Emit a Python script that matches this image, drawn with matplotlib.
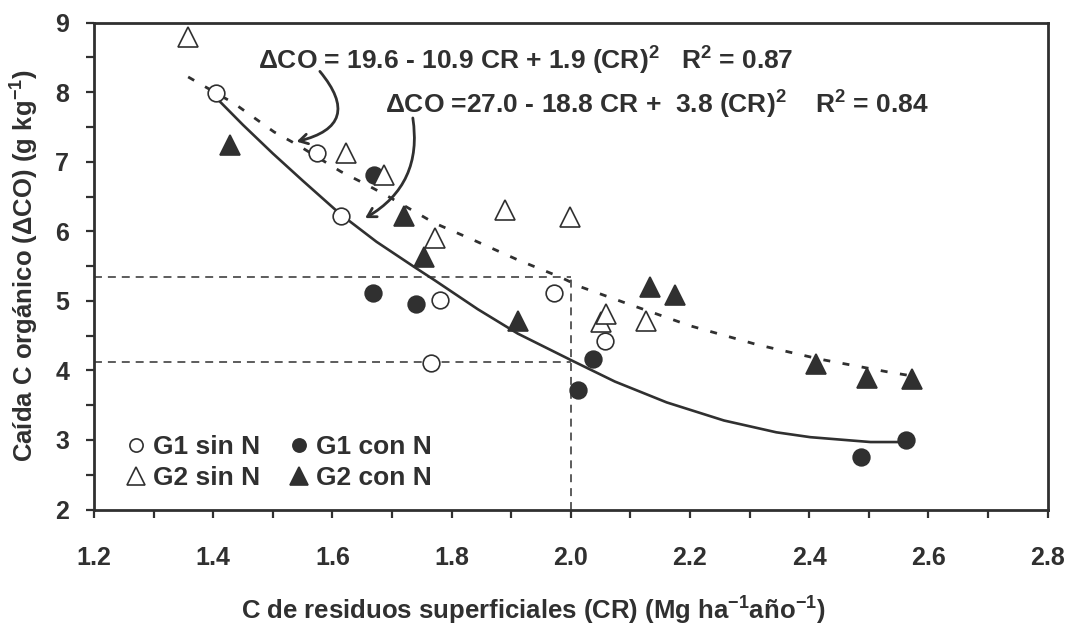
import matplotlib
matplotlib.use("Agg")
import matplotlib.pyplot as plt
from matplotlib.ticker import MultipleLocator, FormatStrFormatter
from matplotlib.lines import Line2D

plt.rcParams['font.family'] = ['Liberation Sans', 'DejaVu Sans']
plt.rcParams['font.weight'] = 'bold'
plt.rcParams['mathtext.fontset'] = 'custom'
plt.rcParams['mathtext.rm'] = 'Liberation Sans:bold'
plt.rcParams['mathtext.bf'] = 'Liberation Sans:bold'
plt.rcParams['mathtext.default'] = 'bf'

# ---- data ----
g1_sin_x = [1.405, 1.575, 1.614, 1.781, 1.765, 1.972, 2.058]
g1_sin_y = [7.99, 7.12, 6.22, 5.01, 4.11, 5.12, 4.43]

g1_con_x = [1.670, 1.668, 1.740, 2.012, 2.037, 2.562, 2.487]
g1_con_y = [6.81, 5.12, 4.95, 3.72, 4.16, 3.00, 2.76]

g2_sin_x = [1.358, 1.623, 1.687, 1.773, 1.890, 1.998, 2.050, 2.059, 2.126]
g2_sin_y = [8.80, 7.13, 6.81, 5.91, 6.31, 6.21, 4.70, 4.81, 4.71]

g2_con_x = [1.428, 1.721, 1.754, 1.911, 2.133, 2.175, 2.412, 2.497, 2.573]
g2_con_y = [7.24, 6.22, 5.63, 4.71, 5.20, 5.09, 4.09, 3.89, 3.88]

# fitted curves
solid_x = [1.405, 1.450, 1.500, 1.550, 1.613, 1.674, 1.737, 1.771, 1.844, 1.911,
           2.000, 2.074, 2.161, 2.257, 2.345, 2.402, 2.503, 2.562]
solid_y = [7.92, 7.53, 7.12, 6.73, 6.25, 5.85, 5.49, 5.30, 4.88, 4.53,
           4.15, 3.84, 3.54, 3.28, 3.11, 3.04, 2.97, 2.97]

dotted_x = [1.358, 1.435, 1.502, 1.542, 1.614, 1.653, 1.690, 1.771, 1.838, 1.911, 1.983,
            2.017, 2.095, 2.201, 2.313, 2.419, 2.531, 2.573]
dotted_y = [8.22, 7.84, 7.43, 7.24, 6.86, 6.69, 6.52, 6.12, 5.87, 5.59, 5.34,
            5.20, 4.96, 4.64, 4.37, 4.16, 3.98, 3.92]

# reference lines
ref_x = 2.0
ref_y_high = 5.35
ref_y_low = 4.12

eq1 = r"ΔCO = 19.6 - 10.9 CR + 1.9 (CR)$^2$   R$^2$ = 0.87"
eq2 = r"ΔCO =27.0 - 18.8 CR +  3.8 (CR)$^2$    R$^2$ = 0.84"

x_label = r"C de residuos superficiales (CR) (Mg ha$^{-1}$año$^{-1}$)"
y_label = r"Caída C orgánico (ΔCO) (g kg$^{-1}$)"

legend_labels = ["G1 sin N", "G2 sin N", "G1 con N", "G2 con N"]

# ---- drawing ----
C = '#303030'
W, H = 1071, 627
fig = plt.figure(figsize=(W/100, H/100), dpi=100)
ax = fig.add_axes([94/W, 1-509.5/H, (1047.5-94)/W, (509.5-22.7)/H])
ax.set_xlim(1.2, 2.8)
ax.set_ylim(2, 9)

dash = (0, (5.2, 3.9))
ax.plot([1.2, ref_x], [ref_y_high, ref_y_high], color=C, lw=1.1, ls=dash, zorder=1)
ax.plot([1.2, ref_x], [ref_y_low, ref_y_low], color=C, lw=1.1, ls=dash, zorder=1)
ax.plot([ref_x, ref_x], [2, ref_y_high], color=C, lw=1.1, ls=dash, zorder=1)

ax.plot(solid_x, solid_y, color=C, lw=1.9, zorder=2, solid_joinstyle='round')
ax.plot(dotted_x, dotted_y, color=C, lw=2.0, ls=(0, (2.5, 4.5)), zorder=2)

ms_c = 12
ms_t = 14
ax.plot(g1_sin_x, g1_sin_y, 'o', ms=ms_c, mfc='white', mec=C, mew=1.2, zorder=3)
ax.plot(g1_con_x, g1_con_y, 'o', ms=ms_c, mfc=C, mec=C, mew=1.2, zorder=3)
ax.plot(g2_sin_x, g2_sin_y, '^', ms=ms_t, mfc='white', mec=C, mew=1.2, zorder=3)
ax.plot(g2_con_x, g2_con_y, '^', ms=ms_t, mfc=C, mec=C, mew=1.2, zorder=3)

# axes styling
for s in ax.spines.values():
    s.set_linewidth(2.0)
    s.set_color(C)
ax.xaxis.set_major_locator(MultipleLocator(0.2))
ax.xaxis.set_minor_locator(MultipleLocator(0.1))
ax.yaxis.set_major_locator(MultipleLocator(1))
ax.yaxis.set_minor_locator(MultipleLocator(0.5))
ax.xaxis.set_major_formatter(FormatStrFormatter('%.1f'))
ax.tick_params(which='both', direction='out', length=6, width=1.6, color=C,
               top=False, right=False)
ax.tick_params(which='major', labelsize=18, labelcolor=C)
ax.tick_params(axis='x', which='major', pad=20)
ax.tick_params(axis='y', which='major', pad=12)
for lab in ax.get_xticklabels() + ax.get_yticklabels():
    lab.set_fontweight('bold')

ax.set_xlabel(x_label, fontsize=18.5, fontweight='bold', color=C, labelpad=18)
ax.xaxis.label.set_x((533 - 94) / (1047.5 - 94))
ax.set_ylabel(y_label, fontsize=18.5, fontweight='bold', color=C, labelpad=10)

# equations
ax.text(1.475, 8.324, eq1, fontsize=19, fontweight='bold', color=C, va='baseline', ha='left')
ax.text(1.688, 7.691, eq2, fontsize=19, fontweight='bold', color=C, va='baseline', ha='left')

ax.annotate('', xy=(1.540, 7.29), xytext=(1.579, 8.30),
            arrowprops=dict(arrowstyle='->,head_length=0.6,head_width=0.35', color=C, lw=2,
                            connectionstyle='arc3,rad=-0.8', shrinkA=0, shrinkB=0))
ax.annotate('', xy=(1.655, 6.19), xytext=(1.735, 7.63),
            arrowprops=dict(arrowstyle='->,head_length=0.6,head_width=0.35', color=C, lw=2,
                            connectionstyle='arc3,rad=-0.34', shrinkA=0, shrinkB=0))

lc, lt = 9.5, 12.5
handles = [
    Line2D([], [], ls='none', marker='o', ms=lc, mfc='white', mec=C, mew=1.2),
    Line2D([], [], ls='none', marker='^', ms=lt, mfc='white', mec=C, mew=1.2),
    Line2D([], [], ls='none', marker='o', ms=lc, mfc=C, mec=C, mew=1.2),
    Line2D([], [], ls='none', marker='^', ms=lt, mfc=C, mec=C, mew=1.2),
]
leg = fig.legend(handles, legend_labels, ncol=2, frameon=False, loc='upper left',
                 bbox_to_anchor=(127/W, 1-435/H), bbox_transform=fig.transFigure,
                 fontsize=19, handlelength=0.7, handletextpad=0.3, columnspacing=1.1,
                 labelspacing=0.26, borderpad=0, borderaxespad=0)
for t in leg.get_texts():
    t.set_color(C)
    t.set_fontweight('bold')

fig.savefig('out.png', dpi=100)
